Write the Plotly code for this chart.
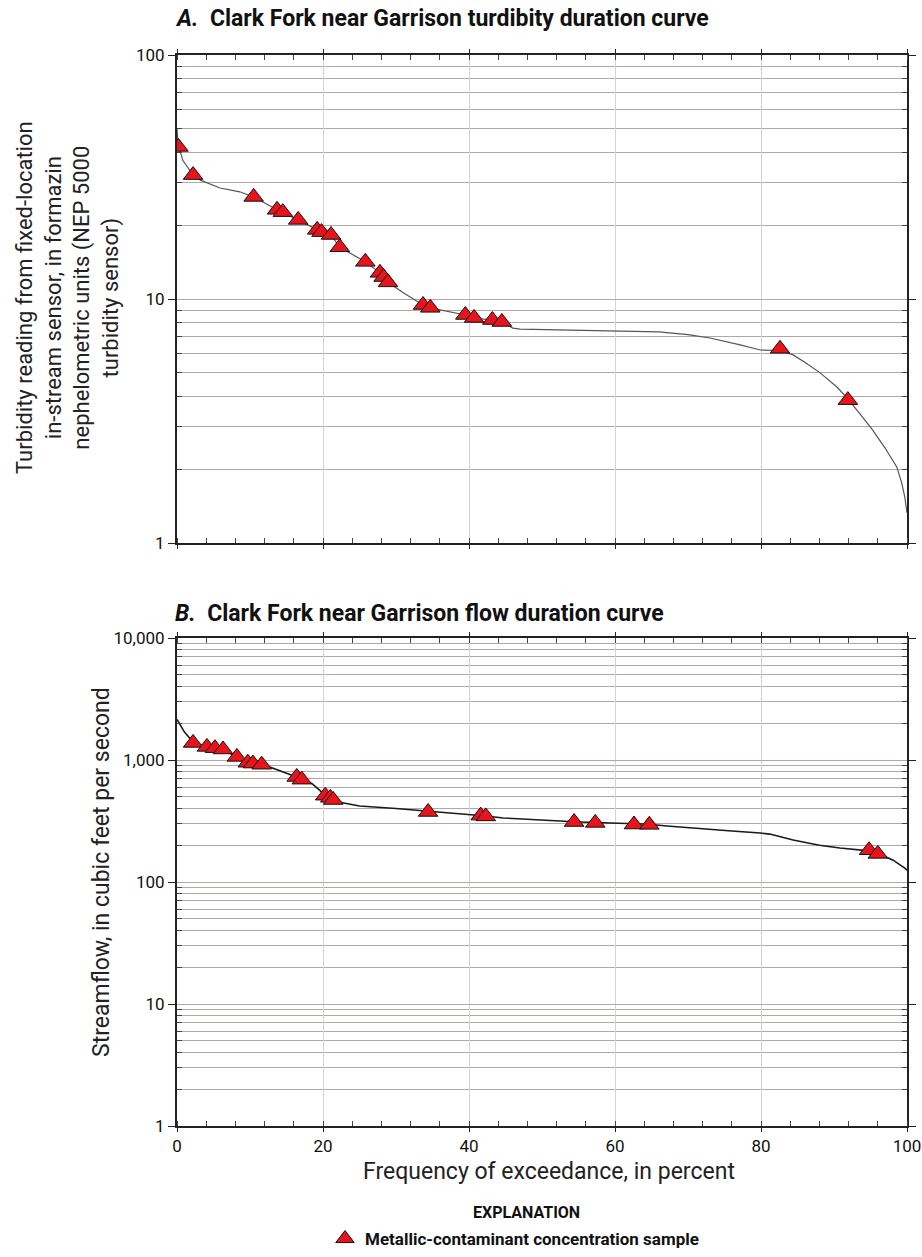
import plotly.graph_objects as go

# ---------------- data ----------------
# Panel A: turbidity duration curve (percent exceedance, FNU)
turb_curve_pct = [0, 0.15, 0.8, 2.2, 3.2, 5.9, 8.6, 10.5, 13.7, 16.6, 19.2, 21.1, 22.3, 25.8,
                  27.8, 28.9, 31.0, 33.7, 34.7, 37.0, 39.5, 40.7, 43.2, 44.5, 46.0, 47.0, 55.0,
                  60.0, 66.0, 70.0, 73.0, 77.0, 79.9, 82.6, 84.4, 86.0, 88.1, 90.4, 91.9, 93.5,
                  95.3, 97.0, 98.6, 99.3, 99.7, 100.0]
turb_curve_val = [50, 43, 37, 32.2, 30.7, 28.5, 27.5, 26.2, 23.2, 21.1, 19.2, 18.3, 16.3, 14.2,
                  12.8, 11.7, 10.6, 9.45, 9.2, 8.9, 8.6, 8.36, 8.2, 8.05, 7.6, 7.53, 7.45,
                  7.4, 7.33, 7.15, 6.92, 6.5, 6.18, 6.15, 5.9, 5.5, 4.98, 4.36, 3.9, 3.4,
                  2.9, 2.45, 2.05, 1.75, 1.54, 1.33]
turb_sample_pct = [0.2, 2.2, 10.5, 13.7, 14.5, 16.6, 19.2, 19.8, 21.1, 22.3, 25.8, 27.8, 28.3,
                   28.9, 33.7, 34.7, 39.5, 40.7, 43.2, 44.5, 82.6, 91.9]
turb_sample_val = [42, 32.2, 26.2, 23.2, 22.7, 21.1, 19.2, 18.8, 18.3, 16.3, 14.2, 12.8, 12.3,
                   11.7, 9.45, 9.2, 8.6, 8.36, 8.2, 8.05, 6.25, 3.85]

# Panel B: flow duration curve (percent exceedance, cubic feet per second)
flow_curve_pct = [0, 1.0, 2.2, 4.1, 5.2, 6.3, 8.2, 9.7, 10.4, 11.6, 14.0, 16.4, 17.1, 18.5,
                  20.3, 21.0, 21.4, 22.3, 25.0, 30.0, 34.4, 38.8, 41.6, 42.3, 44.7, 50.0,
                  54.4, 57.3, 62.6, 64.7, 67.1, 72.0, 76.0, 79.9, 81.2, 84.4, 88.0, 90.8,
                  94.8, 96.0, 98.1, 99.7, 100.0]
flow_curve_val = [2150, 1700, 1400, 1280, 1250, 1220, 1060, 965, 945, 925, 820, 726, 700, 640,
                  517, 498, 479, 450, 420, 400, 382, 365, 354, 348, 335, 320,
                  312, 307, 299, 297, 288, 272, 262, 252, 247, 221, 200, 190,
                  180, 172, 151, 130, 125]
flow_sample_pct = [2.2, 4.1, 5.2, 6.3, 8.2, 9.7, 10.4, 11.6, 16.4, 17.1, 20.3, 21.0, 21.4,
                   34.4, 41.6, 42.3, 54.4, 57.3, 62.6, 64.7, 94.8, 96.0]
flow_sample_val = [1380, 1280, 1250, 1220, 1060, 950, 935, 915, 726, 690, 510, 490, 470,
                   375, 350, 345, 310, 305, 296, 294, 182, 170]

y_ticks_a = [1, 10, 100]
y_ticks_b = [1, 10, 100, 1000, 10000]
y_ticklabels_b = ["1", "10", "100", "1,000", "10,000"]
x_ticks = [0, 20, 40, 60, 80, 100]

title_a = "<i>A.</i>  Clark Fork near Garrison turdibity duration curve"
title_b = "<i>B.</i>  Clark Fork near Garrison flow duration curve"
ytitle_a = ("Turbidity reading from fixed-location<br>in-stream sensor, in formazin<br>"
            "nephelometric units (NEP 5000<br>turbidity sensor)")
ytitle_b = "Streamflow, in cubic feet per second"
xtitle = "Frequency of exceedance, in percent"
legend_name = "<b>Metallic-contaminant concentration sample</b>"

# ---------------- style ----------------
FONT = "Roboto, Liberation Sans, sans-serif"
W, H = 922, 1257
RED = "#e8141c"
HGRID = "#b3a7a5"
VGRID = "#d4d4d4"


def minor_vals(ticks):
    out = []
    for d in ticks[:-1]:
        out += [d * k for k in range(2, 10)]
    return out


fig = go.Figure()

fig.add_trace(go.Scatter(x=turb_curve_pct, y=turb_curve_val, mode="lines",
                         line=dict(color="#555555", width=1.2), showlegend=False,
                         xaxis="x", yaxis="y"))
fig.add_trace(go.Scatter(x=turb_sample_pct, y=turb_sample_val, mode="markers",
                         marker=dict(symbol="triangle-up", size=17, color=RED,
                                     line=dict(color="#111111", width=1)),
                         name=legend_name, showlegend=True, xaxis="x", yaxis="y"))
fig.add_trace(go.Scatter(x=flow_curve_pct, y=flow_curve_val, mode="lines",
                         line=dict(color="#1a1a1a", width=1.6), showlegend=False,
                         xaxis="x2", yaxis="y2"))
fig.add_trace(go.Scatter(x=flow_sample_pct, y=flow_sample_val, mode="markers",
                         marker=dict(symbol="triangle-up", size=17, color=RED,
                                     line=dict(color="#111111", width=1)),
                         showlegend=False, xaxis="x2", yaxis="y2"))

xdom = [177 / W, 907 / W]
ya_dom = [1 - 543 / H, 1 - 55 / H]
yb_dom = [1 - 1126 / H, 1 - 638 / H]

common_x = dict(range=[0, 100], tickvals=x_ticks, showgrid=True, gridcolor=VGRID, gridwidth=1,
                ticks="outside", ticklen=4, tickwidth=1, tickcolor="#222",
                minor=dict(dtick=4, ticks="inside", ticklen=5, tickcolor="#444", showgrid=False),
                showline=True, linecolor="#222", linewidth=2, mirror="ticks", zeroline=False,
                ticklabeloverflow="allow", automargin=False,
                tickfont=dict(family=FONT, size=17, color="#111"), domain=xdom)

common_y = dict(type="log", showgrid=True, gridcolor=HGRID, gridwidth=1,
                ticks="outside", ticklen=7, tickwidth=1, tickcolor="#222",
                showline=True, linecolor="#222", linewidth=2, mirror="ticks", zeroline=False,
                ticklabeloverflow="allow", automargin=False,
                tickfont=dict(family=FONT, size=17, color="#111"))

fig.update_layout(
    width=W, height=H, margin=dict(l=0, r=0, t=0, b=0, autoexpand=False),
    paper_bgcolor="white", plot_bgcolor="white",
    xaxis=dict(common_x, anchor="y", showticklabels=False),
    yaxis=dict(common_y, range=[0, 2], tickvals=y_ticks_a, ticktext=[str(v) for v in y_ticks_a],
               minor=dict(tickvals=minor_vals(y_ticks_a), ticks="inside", ticklen=5,
                          tickcolor="#444", showgrid=True, gridcolor=HGRID, gridwidth=1),
               domain=ya_dom, anchor="x"),
    xaxis2=dict(common_x, anchor="y2", showticklabels=True),
    yaxis2=dict(common_y, range=[0, 4], tickvals=y_ticks_b, ticktext=y_ticklabels_b,
                minor=dict(tickvals=minor_vals(y_ticks_b), ticks="inside", ticklen=5,
                           tickcolor="#444", showgrid=True, gridcolor=HGRID, gridwidth=1),
                domain=yb_dom, anchor="x2"),
    showlegend=True,
    legend=dict(x=325 / W, y=0, xanchor="left", yanchor="bottom",
                bgcolor="rgba(0,0,0,0)", borderwidth=0,
                font=dict(family=FONT, size=17, color="#111")),
)

annos = [
    dict(text="<b>" + title_a + "</b>", x=173 / W, y=1 - 3 / H, xanchor="left", yanchor="top",
         font=dict(family=FONT, size=23, color="#111")),
    dict(text="<b>" + title_b + "</b>", x=173 / W, y=1 - 598 / H, xanchor="left", yanchor="top",
         font=dict(family=FONT, size=23, color="#111")),
    dict(text=ytitle_a, x=68 / W, y=1 - 298 / H, xanchor="center", yanchor="middle",
         textangle=-90, align="center", font=dict(family=FONT, size=22, color="#222")),
    dict(text=ytitle_b, x=101 / W, y=1 - 872 / H, xanchor="center", yanchor="middle",
         textangle=-90, font=dict(family=FONT, size=23, color="#222")),
    dict(text=xtitle, x=549 / W, y=1 - 1171 / H, xanchor="center", yanchor="middle",
         font=dict(family=FONT, size=23, color="#222")),
    dict(text="<b>EXPLANATION</b>", x=526 / W, y=1 - 1212 / H, xanchor="center", yanchor="middle",
         font=dict(family=FONT, size=16, color="#111")),
]
for a in annos:
    a.update(xref="paper", yref="paper", showarrow=False)
fig.update_layout(annotations=annos)

fig.write_html("out.html")
